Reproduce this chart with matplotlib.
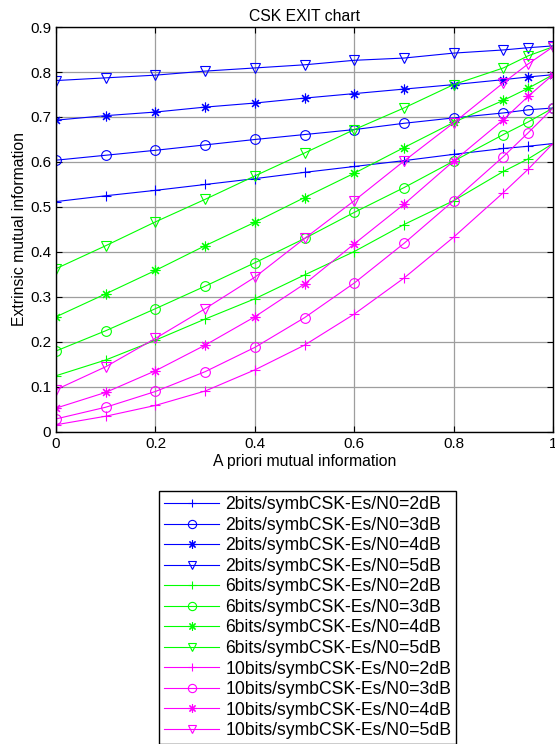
import numpy as np
import matplotlib
matplotlib.use('Agg')
import matplotlib.pyplot as plt
from matplotlib.ticker import FormatStrFormatter

plt.rcParams['font.family'] = ['Liberation Sans', 'DejaVu Sans']

# a priori mutual information (x axis)
ia = [0, 0.1, 0.2, 0.3, 0.4, 0.5, 0.6, 0.7, 0.8, 0.9, 0.95, 1.0]

# extrinsic mutual information
b2_2dB = [0.512, 0.525, 0.537, 0.550, 0.563, 0.577, 0.590, 0.603, 0.617, 0.630, 0.635, 0.641]
b2_3dB = [0.604, 0.615, 0.626, 0.638, 0.650, 0.661, 0.672, 0.686, 0.698, 0.709, 0.716, 0.720]
b2_4dB = [0.693, 0.703, 0.711, 0.722, 0.731, 0.742, 0.752, 0.762, 0.772, 0.783, 0.789, 0.794]
b2_5dB = [0.781, 0.787, 0.793, 0.802, 0.809, 0.816, 0.826, 0.831, 0.842, 0.849, 0.854, 0.858]

b6_2dB = [0.125, 0.160, 0.204, 0.251, 0.296, 0.349, 0.401, 0.461, 0.514, 0.579, 0.607, 0.641]
b6_3dB = [0.180, 0.225, 0.274, 0.324, 0.376, 0.430, 0.488, 0.543, 0.602, 0.661, 0.689, 0.720]
b6_4dB = [0.256, 0.307, 0.359, 0.414, 0.466, 0.521, 0.575, 0.632, 0.688, 0.737, 0.764, 0.794]
b6_5dB = [0.363, 0.414, 0.467, 0.517, 0.569, 0.620, 0.672, 0.720, 0.772, 0.809, 0.836, 0.856]

b10_2dB = [0.016, 0.035, 0.059, 0.091, 0.138, 0.193, 0.262, 0.342, 0.433, 0.532, 0.584, 0.641]
b10_3dB = [0.029, 0.055, 0.090, 0.134, 0.188, 0.254, 0.331, 0.419, 0.514, 0.612, 0.665, 0.720]
b10_4dB = [0.053, 0.088, 0.136, 0.193, 0.256, 0.329, 0.418, 0.506, 0.602, 0.694, 0.746, 0.794]
b10_5dB = [0.094, 0.145, 0.208, 0.274, 0.344, 0.430, 0.514, 0.602, 0.687, 0.776, 0.818, 0.856]

curves = [b2_2dB, b2_3dB, b2_4dB, b2_5dB,
          b6_2dB, b6_3dB, b6_4dB, b6_5dB,
          b10_2dB, b10_3dB, b10_4dB, b10_5dB]
bits = [2, 2, 2, 2, 6, 6, 6, 6, 10, 10, 10, 10]
snr = [2, 3, 4, 5] * 3

colors = {2: (0, 0, 1), 6: (0, 1, 0), 10: (1, 0, 1)}
markers = {2: '+', 3: 'o', 4: (8, 2, 0), 5: 'v'}

fig = plt.figure(figsize=(5.55, 7.44), dpi=100)
ax = fig.add_axes([0.101, 0.4194, 0.8955, 0.5443])

for y, nb, s in zip(curves, bits, snr):
    ax.plot(ia, y, color=colors[nb], marker=markers[s], markersize=7,
            markerfacecolor='none', markeredgewidth=0.8, linewidth=0.8,
            label='%dbits/symbCSK-Es/N0=%ddB' % (nb, s))

ax.set_xlim(0, 1)
ax.set_ylim(0, 0.9)
ax.set_xticks(np.arange(0, 1.01, 0.2))
ax.set_yticks(np.arange(0, 0.91, 0.1))
ax.xaxis.set_major_formatter(FormatStrFormatter('%g'))
ax.yaxis.set_major_formatter(FormatStrFormatter('%g'))
ax.tick_params(direction='in', top=True, right=True, length=4, labelsize=11, width=0.8)
ax.grid(True, color='0.62', linewidth=0.9)
for sp in ax.spines.values():
    sp.set_linewidth(1.0)

ax.set_title('CSK EXIT chart', fontsize=11.3, pad=4)
ax.set_xlabel('A priori mutual information', fontsize=11.3, labelpad=2)
ax.set_ylabel('Extrinsic mutual information', fontsize=11.3, labelpad=2)

leg = fig.legend(loc='upper left', bbox_to_anchor=(159 / 555, 1 - 491 / 744),
                 fontsize=12.7, numpoints=1, handlelength=3.1, handletextpad=0.35,
                 borderpad=0.3, labelspacing=0.2, borderaxespad=0, fancybox=False,
                 framealpha=1, edgecolor='black', markerscale=0.85)
leg.get_frame().set_linewidth(1.0)

fig.savefig('out.png', dpi=100)
